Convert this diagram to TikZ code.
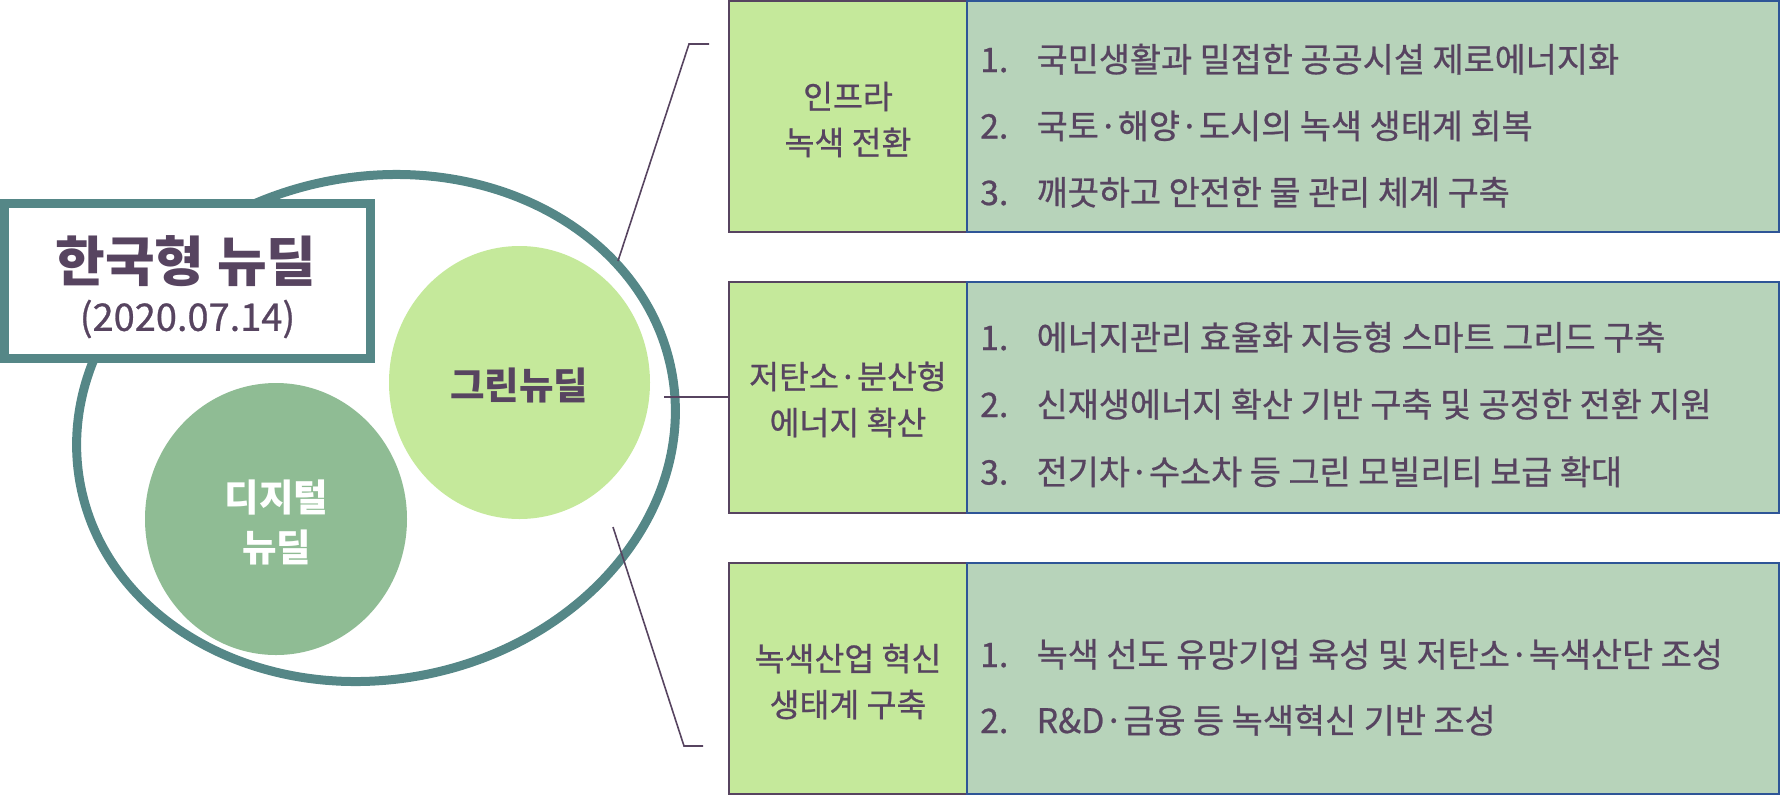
\documentclass[tikz,border=0pt]{standalone}
\usepackage{fontspec}
\setmainfont{Noto Sans CJK KR}
\newfontfamily\medf{Noto Sans CJK KR}[FakeBold=0.7]
\usetikzlibrary{shapes.geometric}
\definecolor{inkc}{HTML}{574460}
\definecolor{ringc}{HTML}{558787}
\definecolor{lgreenc}{HTML}{C5E99B}
\definecolor{listc}{HTML}{B7D3BA}
\definecolor{digic}{HTML}{8FBC94}
\definecolor{bluec}{HTML}{2E5597}
\begin{document}
\begin{tikzpicture}[x=1pt,y=-1pt,
  ringst/.style={draw=ringc, line width=9pt, ellipse, inner sep=0pt},
  titlebox/.style={draw=ringc, line width=9pt, fill=white, inner sep=0pt},
  blob/.style={ellipse, draw=none, inner sep=0pt},
  gbox/.style={draw=inkc, line width=2pt, fill=lgreenc, inner sep=0pt, minimum width=238pt, minimum height=231pt},
  lbox/.style={draw=bluec, line width=2pt, fill=listc, inner sep=0pt, minimum width=812pt, minimum height=231pt},
  glabel/.style={text=inkc, align=center, inner sep=0pt, font=\medf\fontsize{32.5}{46}\selectfont},
  item/.style={text=inkc, anchor=base west, inner sep=0pt, font=\medf\fontsize{33.8}{38}\selectfont},
  conn/.style={draw=inkc, line width=1.6pt},
  txt/.style={inner sep=0pt}
]
\path[use as bounding box] (0,0) rectangle (1781,796);

% outer ring
\node[ringst, rotate=11, minimum width=602pt, minimum height=503pt] (ring) at (376,428) {};

% title box
\node[titlebox, minimum width=366pt, minimum height=155pt] (tbox) at (187.5,281) {};
\node[txt, text=inkc, font=\fontsize{54}{60}\selectfont\bfseries] (title) at (186,261) {한국형 뉴딜};
\node[txt, text=inkc, font=\medf\fontsize{38}{40}\selectfont] (date) at (187.5,319) {(2020.07.14)};

% circles
\node[blob, fill=lgreenc, minimum width=261pt, minimum height=273pt] (green) at (519.5,382.5) {};
\node[txt, text=inkc, font=\fontsize{37.5}{44}\selectfont\bfseries] (greenlbl) at (519,385) {그린뉴딜};
\node[blob, fill=digic, minimum width=262pt, minimum height=272pt] (digital) at (276,519) {};
\node[txt, text=white, align=center, font=\fontsize{37.5}{50}\selectfont\bfseries] (digilbl) at (276.5,522.5) {디지털\\뉴딜};

% boxes
\node[gbox] (b1) at (848,116.5) {};
\node[lbox] (r1) at (1373,116.5) {};
\node[gbox] (b2) at (848,397) {};
\node[lbox] (r2) at (1373,397) {};
\node[gbox] (b3) at (848,678.5) {};
\node[lbox] (r3) at (1373,678.5) {};

% connectors
\coordinate (p1a) at (618,261);
\coordinate (p1b) at (689,44);
\coordinate (p1c) at (709,44);
\draw[conn] (p1a) -- (p1b) -- (p1c);
\coordinate (p2a) at (664,397);
\draw[conn] (p2a) -- (b2.west);
\coordinate (p3a) at (613,527);
\coordinate (p3b) at (684,746);
\coordinate (p3c) at (703,746);
\draw[conn] (p3a) -- (p3b) -- (p3c);

% labels in green boxes
\node[glabel] (l1) at (848,119.5) {인프라\\녹색 전환};
\node[glabel] (l2) at (848,399.5) {저탄소·분산형\\에너지 확산};
\node[glabel] (l3) at (848,681.5) {녹색산업 혁신\\생태계 구축};

% list items
\node[item] (i11) at (980,72) {\makebox[56.5pt][l]{1.}국민생활과 밀접한 공공시설 제로에너지화};
\node[item] (i12) at (980,138.5) {\makebox[56.5pt][l]{2.}국토·해양·도시의 녹색 생태계 회복};
\node[item] (i13) at (980,205) {\makebox[56.5pt][l]{3.}깨끗하고 안전한 물 관리 체계 구축};
\node[item] (i21) at (980,350) {\makebox[56.5pt][l]{1.}에너지관리 효율화 지능형 스마트 그리드 구축};
\node[item] (i22) at (980,417) {\makebox[56.5pt][l]{2.}신재생에너지 확산 기반 구축 및 공정한 전환 지원};
\node[item] (i23) at (980,484.5) {\makebox[56.5pt][l]{3.}전기차·수소차 등 그린 모빌리티 보급 확대};
\node[item] (i31) at (980,667) {\makebox[56.5pt][l]{1.}녹색 선도 유망기업 육성 및 저탄소·녹색산단 조성};
\node[item] (i32) at (980,733) {\makebox[56.5pt][l]{2.}R\&D·금융 등 녹색혁신 기반 조성};
\end{tikzpicture}
\end{document}
